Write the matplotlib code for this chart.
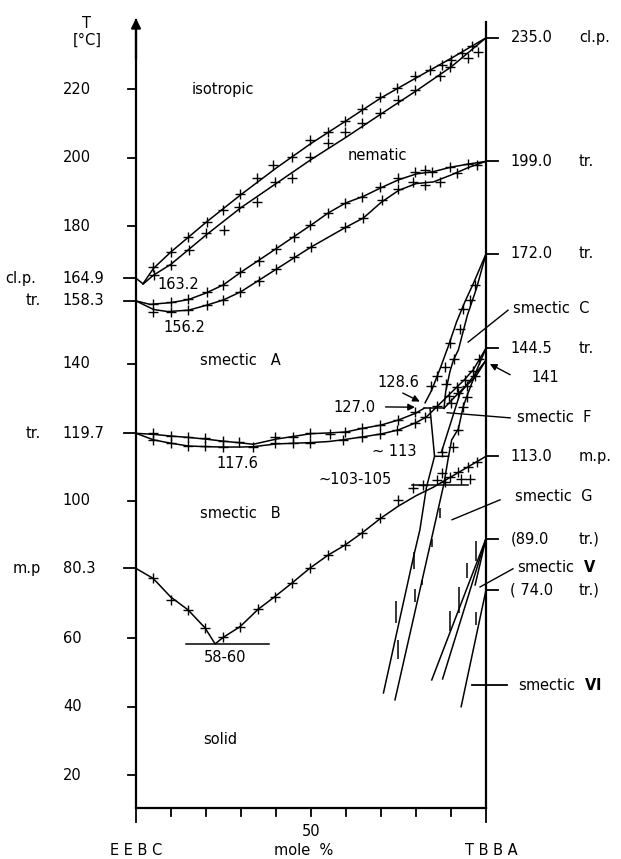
import matplotlib
matplotlib.use("Agg")
import matplotlib.pyplot as plt
import numpy as np

# ---------------- data (mole % TBBA, temperature in degC) ----------------
# clearing (isotropic / nematic) two-phase lines
iso_up_x = [0, 2, 5, 10, 20, 30, 40, 50, 60, 70, 80, 90, 100]
iso_up_T = [164.9, 163.3, 167.8, 172.6, 181.2, 189.3, 197.0, 204.2, 210.8, 217.5, 223.3, 229.0, 235.0]
iso_lo_x = [2, 5, 10, 20, 30, 40, 50, 60, 70, 80, 90, 100]
iso_lo_T = [163.2, 165.8, 169.0, 177.5, 185.5, 192.5, 199.5, 206.0, 212.8, 219.5, 226.5, 235.0]
iso_up_mx = [4.9, 10, 14.9, 20.3, 24.9, 29.7, 34.6, 39.1, 44.6, 49.7, 54.9, 59.7, 64.6, 69.7, 74.6, 79.7, 84, 87.4, 90, 93.1, 96]
iso_up_mT = [168.2, 172.6, 177.0, 181.3, 184.8, 189.5, 194.2, 197.9, 200.3, 205.2, 207.6, 210.8, 214.3, 217.8, 220.4, 223.9, 225.5, 227.1, 228.5, 230.6, 232.5]
iso_lo_mx = [5, 10, 15, 20, 25, 29.5, 34.6, 39.7, 44.6, 49.7, 54.9, 59.7, 64.6, 69.7, 74.9, 79.7, 86.9, 89.7, 94.9, 97.8]
iso_lo_mT = [165.9, 168.8, 173.2, 178.1, 179.0, 185.7, 187.1, 193.0, 194.1, 200.3, 204.3, 207.5, 210.2, 213.1, 216.9, 219.8, 223.9, 226.5, 229.1, 231.0]

# nematic / smectic A two-phase lines
nem_up_x = [0, 4, 10, 15, 20, 25, 30, 40, 50, 55, 60, 65, 70, 75, 80, 85, 90, 95, 100]
nem_up_T = [158.3, 157.3, 157.8, 158.7, 160.6, 163.0, 166.7, 173.5, 180.4, 184.0, 186.9, 188.8, 191.3, 193.6, 195.3, 196.0, 197.3, 198.2, 199.0]
nem_lo_x = [0, 5, 9, 15, 20, 25, 30, 40, 50, 60, 65, 70, 75, 80, 85, 90, 95, 100]
nem_lo_T = [158.3, 155.8, 155.2, 155.6, 157.0, 158.6, 161.0, 167.5, 174.0, 179.8, 182.5, 187.0, 190.5, 192.5, 193.0, 195.0, 197.2, 199.0]
nem_up_mx = [4.9, 10, 14.9, 20.3, 24.9, 29.7, 35, 40, 45, 49.7, 54.9, 59.7, 64.6, 69.7, 74.9, 79.7, 82.6, 84.6, 89.7, 94.9]
nem_up_mT = [157.4, 158.0, 158.9, 160.9, 163.0, 166.7, 170.0, 173.5, 177.0, 180.4, 184.0, 186.9, 188.6, 191.5, 194.1, 195.9, 196.5, 195.9, 197.3, 198.2]
nem_lo_mx = [4.9, 10, 14.9, 20.3, 24.9, 29.7, 35, 40, 45, 50, 59.7, 64.9, 70.3, 74.9, 79.1, 82.6, 86.9, 91.7, 97.4]
nem_lo_mT = [155.1, 155.1, 155.7, 157.1, 158.6, 161.0, 164.0, 167.5, 171.0, 174.0, 179.8, 182.5, 187.7, 190.9, 193.0, 192.1, 193.0, 195.6, 197.9]

# smectic A / smectic B two-phase lines
smab_up_x = [0, 5, 10, 15, 20, 25, 30, 33.5, 40, 45, 50, 55, 60, 65, 70, 75, 80, 82.3]
smab_up_T = [119.7, 119.4, 118.9, 118.5, 118.0, 117.4, 116.9, 116.5, 118.0, 118.8, 119.6, 119.8, 120.1, 121.2, 122.1, 123.6, 125.6, 127.0]
smab_lo_x = [0, 5, 10, 15, 20, 25, 30, 33.5, 40, 45, 50, 55, 59, 65, 70, 75, 80, 83, 85.5]
smab_lo_T = [119.7, 117.8, 116.8, 116.0, 115.8, 115.7, 115.7, 115.8, 116.6, 116.8, 117.0, 117.3, 117.8, 118.7, 119.5, 120.7, 122.8, 124.5, 127.0]
smab_up_mx = [4.9, 9.9, 14.9, 19.7, 24.8, 29.5, 39.7, 44.9, 49.7, 55.4, 59.7, 64.6, 69.7, 74.9, 79.7]
smab_up_mT = [119.9, 118.9, 118.5, 118.2, 117.5, 117.3, 118.7, 118.7, 119.9, 119.5, 120.1, 121.3, 122.1, 123.6, 125.9]
smab_lo_mx = [4.9, 9.9, 14.9, 19.7, 24.8, 33.5, 39.7, 44.9, 49.7, 59.1, 64.6, 69.7, 74.6, 79.7, 82.6]
smab_lo_mT = [117.8, 116.8, 116.0, 116.0, 115.7, 115.6, 116.9, 116.9, 117.0, 117.8, 118.7, 119.5, 120.7, 122.8, 124.5]

# smectic C region boundaries (from 172.0 at pure TBBA)
smc_l_x = [100, 96.4, 94.0, 91.6, 89.2, 87.8, 86.9, 84.5, 82.6]
smc_l_T = [172.0, 163.4, 158.1, 152.2, 145.0, 141.1, 138.6, 132.3, 128.6]
smc_r_x = [100, 97.3, 94.7, 92.1, 90.7, 89.7, 88.5, 88.0]
smc_r_T = [172.0, 162.0, 154.2, 144.0, 141.1, 137.7, 132.0, 127.0]
smc_mx = [96.8, 95.3, 93.5, 92.6, 89.8, 88.2, 86.0, 84.4, 91.0, 88.6]
smc_mT = [163.0, 158.5, 156.0, 150.0, 146.0, 139.0, 136.5, 133.5, 141.5, 134.0]

# 127.0 invariant and smectic F wedge
bar127_x = [82.3, 88.0]
bar127_T = [127.0, 127.0]
wedge_x = [84.0, 85.3, 89.3]
wedge_T = [127.0, 113.0, 113.0]

# lines from 144.5 and 141 at pure TBBA towards the 127.0 invariant
f1_x = [100, 96.4, 94.0, 91.6, 88.0, 85.5]
f1_T = [144.5, 138.3, 135.5, 133.1, 129.5, 127.0]
f2_x = [100, 96.9, 92.1, 88.0]
f2_T = [141.0, 136.0, 131.4, 127.0]
f_mx = [98.0, 96.4, 94.0, 91.6, 89.5, 97.0, 94.5, 92.1, 90.0, 86.0]
f_mT = [141.5, 138.0, 135.3, 133.1, 130.5, 136.5, 133.5, 131.4, 128.5, 127.8]

# steep smectic F / G lines
lb_x = [100, 97.5, 94.5, 93.5, 92.1, 90.2, 89.3, 88.0, 85.0, 74.0]
lb_T = [144.5, 138.5, 130.4, 127.5, 121.0, 117.8, 113.0, 105.1, 91.5, 42.0]
lb2_x = [100, 92.6, 87.3]
lb2_T = [141.0, 131.4, 114.3]
la_x = [85.3, 83.0, 81.1, 79.2, 70.7]
la_T = [113.0, 104.0, 91.5, 83.3, 44.0]
steep_mx = [94.5, 93.5, 92.1, 90.7, 87.3, 87.5, 88.4, 86.0]
steep_mT = [130.4, 127.5, 120.7, 115.8, 114.3, 108.0, 105.5, 106.0]

# melting (solid) line with eutectic 58-60
melt_x = [0, 4.9, 9.9, 14.9, 19.7, 22.6, 24.9, 29.7, 34.9, 39.7, 44.5, 49.7, 54.9, 59.7, 64.5, 70, 75, 80, 85, 90, 95, 100]
melt_T = [80.3, 77.4, 72.0, 68.2, 63.0, 58.3, 60.2, 63.3, 68.4, 72.1, 76.0, 80.4, 84.2, 87.1, 90.6, 95.0, 98.5, 101.5, 104.0, 107.0, 110.0, 113.0]
melt_mx = [4.9, 9.9, 14.9, 19.7, 24.9, 29.7, 34.9, 39.7, 44.5, 49.7, 54.9, 59.7, 64.5, 69.7, 74.9, 79.2, 82.1, 89.7, 92.1, 95.0, 97.3]
melt_mT = [77.4, 71.1, 68.2, 62.9, 60.2, 63.3, 68.4, 72.1, 76.0, 80.4, 84.2, 87.1, 90.6, 94.9, 100.3, 103.7, 104.6, 107.0, 108.5, 110.0, 111.4]
eut_x = [14.3, 38.0]
eut_T = [58.3, 58.3]
h104_x = [79.0, 95.0]
h104_T = [104.6, 104.6]
h104_mx = [92.8, 95.5]
h104_mT = [106.3, 106.3]

# low-temperature lines from 89.0 and 74.0 (smectic V, VI)
l1_x = [100, 84.5]
l1_T = [89.0, 47.8]
l2_x = [100, 87.6]
l2_T = [89.0, 48.1]
l3_x = [100, 96.9]
l3_T = [89.0, 75.5]
l4_x = [100, 92.9]
l4_T = [74.0, 40.0]
# short vertical range marks on the steep lines
vm_x = [79.4, 81.8, 79.7, 74.4, 74.9, 84.5, 92.3, 89.7, 94.6, 97.1, 97.1, 86.9]
vm_T0 = [80.0, 75.5, 70.5, 64.5, 54.0, 86.5, 67.2, 62.0, 77.4, 82.5, 63.8, 94.9]
vm_T1 = [85.2, 76.9, 74.3, 70.9, 59.5, 88.9, 75.0, 68.0, 82.0, 88.4, 67.5, 97.9]

left_ticks = [20, 40, 60, 100, 140, 180, 200, 220]
left_special = [164.9, 158.3, 119.7, 80.3]
left_special_lbl = ["164.9", "158.3", "119.7", "80.3"]
left_special_pre = ["cl.p.", "tr.", "tr.", "m.p"]
right_vals = [235.0, 199.0, 172.0, 144.5, 113.0, 89.0, 74.0]
right_num = ["235.0", "199.0", "172.0", "144.5", "113.0", "(89.0", "( 74.0"]
right_suf = ["cl.p.", "tr.", "tr.", "tr.", "m.p.", "tr.)", "tr.)"]

# ---------------- figure ----------------
W, H = 621, 859
fig = plt.figure(figsize=(W / 100, H / 100), dpi=100)
ax = fig.add_axes([136 / W, (H - 808) / H, 350 / W, (808 - 20) / H])
ax.set_xlim(0, 100)
ax.set_ylim(10.46, 240.2)
ax.set_xticks([])
ax.set_yticks([])
ax.spines["top"].set_visible(False)
for s in ["left", "right", "bottom"]:
    ax.spines[s].set_linewidth(1.6)
ax.spines["right"].set_bounds(10.46, 239.6)

lw = 1.1
kw = dict(color="k", lw=lw, solid_joinstyle="round")
mk = dict(color="k", ls="none", marker="+", ms=7, mew=1.0)

for xs, ts in [(iso_up_x, iso_up_T), (iso_lo_x, iso_lo_T), (nem_up_x, nem_up_T), (nem_lo_x, nem_lo_T),
               (smab_up_x, smab_up_T), (smab_lo_x, smab_lo_T), (smc_l_x, smc_l_T), (smc_r_x, smc_r_T),
               (bar127_x, bar127_T), (wedge_x, wedge_T), (f1_x, f1_T), (f2_x, f2_T), (lb_x, lb_T),
               (lb2_x, lb2_T), (la_x, la_T), (melt_x, melt_T), (eut_x, eut_T), (h104_x, h104_T),
               (l1_x, l1_T), (l2_x, l2_T), (l3_x, l3_T), (l4_x, l4_T)]:
    ax.plot(xs, ts, **kw)

for xs, ts in [(iso_up_mx, iso_up_mT), (iso_lo_mx, iso_lo_mT), (nem_up_mx, nem_up_mT), (nem_lo_mx, nem_lo_mT),
               (smab_up_mx, smab_up_mT), (smab_lo_mx, smab_lo_mT), (smc_mx, smc_mT), (f_mx, f_mT),
               (steep_mx, steep_mT), (melt_mx, melt_mT), (h104_mx, h104_mT)]:
    ax.plot(xs, ts, **mk)

ax.vlines(vm_x, vm_T0, vm_T1, color="k", lw=1.1)

# ---------------- axes decorations ----------------
fs = 10.5
ax.annotate("", xy=(0, 241.5), xytext=(0, 228), xycoords="data",
            arrowprops=dict(arrowstyle="-|>", color="k", lw=1.6, mutation_scale=14), annotation_clip=False)
ax.text(-14, 239.2, "T", ha="center", va="center", fontsize=fs)
ax.text(-14, 234.2, "[°C]", ha="center", va="center", fontsize=fs)

for t in left_ticks:
    ax.plot([-2.2, 0], [t, t], color="k", lw=1.3, clip_on=False)
    ax.text(-20.9, t, f"{t}", ha="left", va="center", fontsize=fs)
for t, lbl, pre in zip(left_special, left_special_lbl, left_special_pre):
    ax.plot([-3.4, 0], [t, t], color="k", lw=1.3, clip_on=False)
    ax.text(-20.9, t, lbl, ha="left", va="center", fontsize=fs)
    ax.text(-27.3 if pre != "cl.p." else -28.5, t, pre, ha="right", va="center", fontsize=fs)

for t, num, suf in zip(right_vals, right_num, right_suf):
    ax.plot([100, 103.4], [t, t], color="k", lw=1.3, clip_on=False)
    ax.text(107.0, t, num, ha="left", va="center", fontsize=fs)
    ax.text(126.5, t, suf, ha="left", va="center", fontsize=fs)

for xt in range(0, 101, 10):
    ln = 4.0 if xt in (0, 100) else 2.3
    ax.plot([xt, xt], [10.46, 10.46 - ln], color="k", lw=1.3, clip_on=False)

ax.text(50, 3.5, "50", ha="center", va="center", fontsize=fs)
ax.text(48, -1.8, "mole  %", ha="center", va="center", fontsize=fs)
ax.text(0, -2.0, "E E B C", ha="center", va="center", fontsize=fs)
ax.text(101.4, -2.0, "T B B A", ha="center", va="center", fontsize=fs)

# ---------------- region labels ----------------
ax.text(16, 220, "isotropic", ha="left", va="center", fontsize=fs)
ax.text(60.6, 200.8, "nematic", ha="left", va="center", fontsize=fs)
ax.text(18.3, 140.8, "smectic   A", ha="left", va="center", fontsize=fs)
ax.text(18.3, 96.2, "smectic   B", ha="left", va="center", fontsize=fs)
ax.text(19.1, 30.3, "solid", ha="left", va="center", fontsize=fs)
ax.text(6.0, 163.0, "163.2", ha="left", va="center", fontsize=fs)
ax.text(7.7, 150.6, "156.2", ha="left", va="center", fontsize=fs)
ax.text(23.1, 111.0, "117.6", ha="left", va="center", fontsize=fs)
ax.text(67.4, 114.3, "~ 113", ha="left", va="center", fontsize=fs)
ax.text(52.0, 106.1, "~103-105", ha="left", va="center", fontsize=fs)
ax.text(25.4, 54.2, "58-60", ha="center", va="center", fontsize=fs)
ax.text(68.9, 134.4, "128.6", ha="left", va="center", fontsize=fs)
ax.text(56.3, 127.1, "127.0", ha="left", va="center", fontsize=fs)
ax.annotate("", xy=(80.5, 127.3), xytext=(70.5, 127.4),
            arrowprops=dict(arrowstyle="-|>", color="k", lw=1.0, mutation_scale=10))
ax.annotate("", xy=(81.8, 128.6), xytext=(75.5, 131.8),
            arrowprops=dict(arrowstyle="-|>", color="k", lw=1.0, mutation_scale=10))
ax.annotate("", xy=(100.4, 140.3), xytext=(107.6, 136.4),
            arrowprops=dict(arrowstyle="-|>", color="k", lw=1.0, mutation_scale=10), annotation_clip=False)
ax.text(113.1, 136.1, "141", ha="left", va="center", fontsize=fs)

ax.text(107.7, 156.2, "smectic  C", ha="left", va="center", fontsize=fs)
ax.plot([106.3, 94.9], [155.6, 146.3], color="k", lw=1.0, clip_on=False)
ax.text(108.9, 124.2, "smectic  F", ha="left", va="center", fontsize=fs)
ax.plot([106.9, 88.9], [124.2, 125.7], color="k", lw=1.0, clip_on=False)
ax.text(108.3, 101.2, "smectic  G", ha="left", va="center", fontsize=fs)
ax.plot([104.0, 90.3], [100.3, 94.5], color="k", lw=1.0, clip_on=False)
ax.text(108.9, 80.7, r"smectic  $\mathbf{V}$", ha="left", va="center", fontsize=fs)
ax.plot([107.7, 98.3], [80.2, 74.9], color="k", lw=1.0, clip_on=False)
ax.text(109.1, 46.3, r"smectic  $\mathbf{VI}$", ha="left", va="center", fontsize=fs)
ax.plot([96.0, 106.0], [46.3, 46.3], color="k", lw=1.3, clip_on=False)

fig.savefig("out.png", dpi=100)
